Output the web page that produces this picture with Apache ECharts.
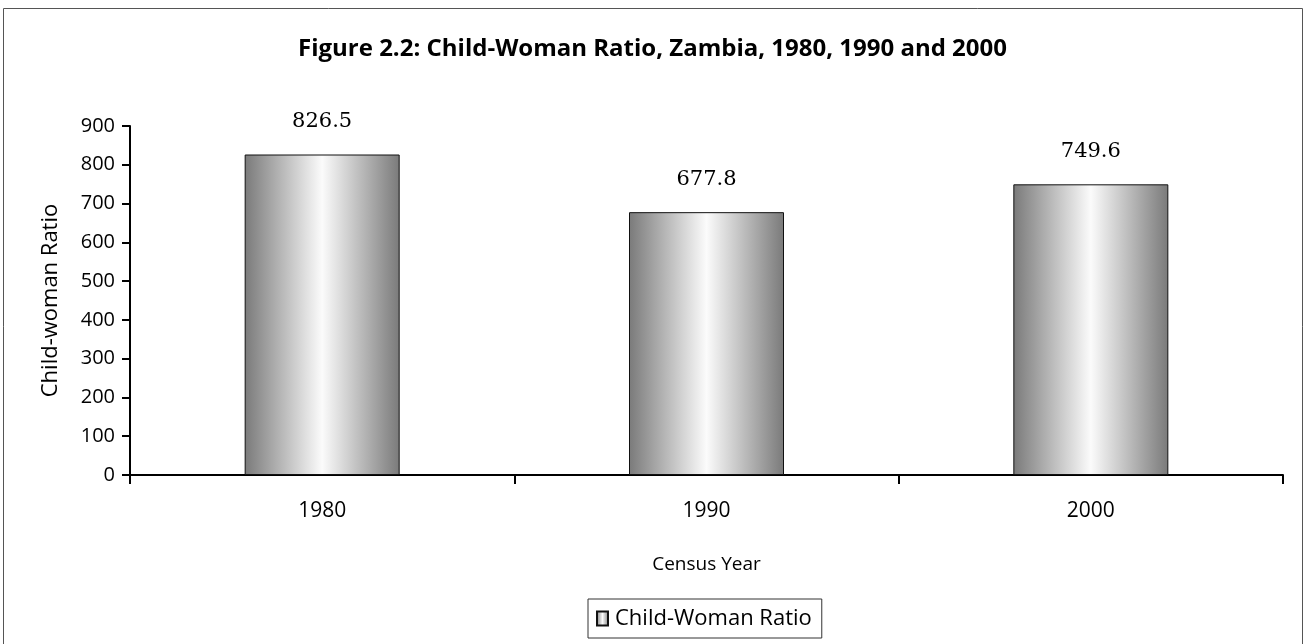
<!DOCTYPE html>
<html>
<head>
<meta charset="utf-8">
<script src="https://cdn.jsdelivr.net/npm/echarts@6/dist/echarts.min.js"></script>
<style>
  html, body { margin: 0; padding: 0; background: #fff; }
  #chart { width: 1305px; height: 644px; }
</style>
</head>
<body>
<div id="chart"></div>
<script>
// data
var years = ['1980', '1990', '2000'];
var ratios = [826.5, 677.8, 749.6];
var seriesName = 'Child-Woman Ratio';

var barFill = new echarts.graphic.LinearGradient(0, 0, 1, 0, [
  { offset: 0, color: '#7a7a7a' },
  { offset: 0.5, color: '#fbfbfb' },
  { offset: 1, color: '#7a7a7a' }
]);

var sans = '"Open Sans", "Noto Sans", sans-serif';

var chart = echarts.init(document.getElementById('chart'));
chart.setOption({
  animation: false,
  backgroundColor: '#fff',
  title: {
    text: 'Figure 2.2: Child-Woman Ratio, Zambia, 1980, 1990 and 2000',
    left: 'center',
    top: 32,
    textStyle: { fontFamily: sans, fontSize: 24, fontWeight: 'bold', color: '#000' }
  },
  //外框
  graphic: [{
    type: 'rect',
    shape: { x: 3.5, y: 8.5, width: 1299, height: 640 },
    style: { fill: 'none', stroke: '#555', lineWidth: 1 },
    silent: true
  }],
  legend: {
    bottom: 6,
    left: 588,
    data: [{ name: seriesName, icon: 'rect' }],
    borderColor: '#333',
    borderWidth: 1,
    padding: [5, 10, 5, 8],
    itemWidth: 11,
    itemHeight: 14,
    itemGap: 4,
    textStyle: { fontFamily: sans, fontSize: 22, color: '#000', lineHeight: 29, padding: [0, 0, 0, 2] }
  },
  grid: { left: 130, right: 22, top: 126, bottom: 169 },
  xAxis: {
    type: 'category',
    data: years,
    name: 'Census Year',
    nameLocation: 'middle',
    nameGap: 80,
    nameTextStyle: { fontFamily: sans, fontSize: 19, color: '#000' },
    axisLine: { lineStyle: { color: '#000', width: 2 } },
    axisTick: { show: true, alignWithLabel: false, length: 9, lineStyle: { color: '#000', width: 2 } },
    axisLabel: { fontFamily: sans, fontSize: 21, color: '#000', margin: 26 },
    splitLine: { show: false }
  },
  yAxis: {
    type: 'value',
    min: 0,
    max: 900,
    interval: 100,
    name: 'Child-woman Ratio',
    nameLocation: 'middle',
    nameGap: 68,
    nameRotate: 90,
    nameTextStyle: { fontFamily: sans, fontSize: 22, color: '#000' },
    axisLine: { show: true, lineStyle: { color: '#000', width: 2 } },
    axisTick: { show: true, length: 8, lineStyle: { color: '#000', width: 2 } },
    axisLabel: { fontFamily: sans, fontSize: 20, color: '#000', margin: 15 },
    splitLine: { show: false }
  },
  series: [{
    name: seriesName,
    type: 'bar',
    data: ratios,
    barWidth: 155,
    itemStyle: { color: barFill, borderColor: '#111', borderWidth: 1 },
    label: {
      show: true,
      position: 'top',
      distance: 22,
      formatter: function (p) { return p.value.toFixed(1); },
      fontFamily: '"DejaVu Serif", serif',
      fontSize: 21,
      color: '#000'
    }
  }]
});
</script>
</body>
</html>
